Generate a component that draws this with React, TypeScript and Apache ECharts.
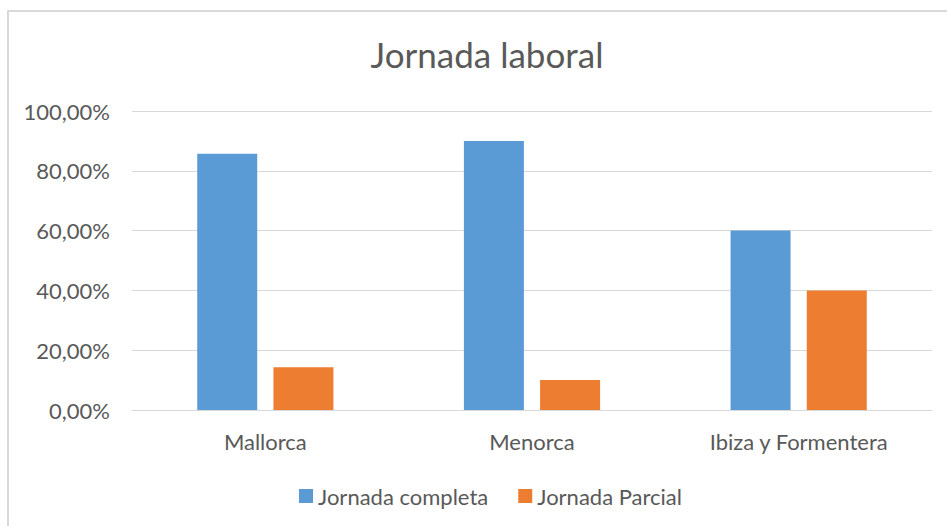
import React, { useEffect, useRef } from "react";
import * as echarts from "echarts";

const categories = ["Mallorca", "Menorca", "Ibiza y Formentera"];
const completa = [85.7, 90.0, 60.0];
const parcial = [14.3, 10.0, 40.0];
const seriesNames = ["Jornada completa", "Jornada Parcial"];
const titleText = "Jornada laboral";

const FONT = "Lato";
const TXT = "#595959";

export default function App() {
  const ref = useRef<HTMLDivElement>(null);
  useEffect(() => {
    if (!ref.current) return;
    const chart = echarts.init(ref.current, undefined, { renderer: "svg" });
    chart.setOption({
      animation: false,
      backgroundColor: "#ffffff",
      title: {
        text: titleText,
        left: 482,
        top: 31,
        textAlign: "center",
        textStyle: { fontFamily: FONT, fontSize: 35, fontWeight: "normal", color: TXT },
      },
      legend: {
        left: 294,
        top: 480,
        itemWidth: 14,
        itemHeight: 14,
        itemGap: 30,
        icon: "rect",
        textStyle: { fontFamily: FONT, fontSize: 22, color: TXT, padding: [0, 0, 0, 0] },
        data: seriesNames,
      },
      graphic: [
        {
          type: "rect",
          shape: { x: 8, y: 11, width: 1000, height: 600 },
          style: { fill: "none", stroke: "#d9d9d9", lineWidth: 2 },
          silent: true,
        },
      ],
      grid: { left: 132, right: 15, top: 111, bottom: 116, containLabel: false },
      xAxis: {
        type: "category",
        data: categories,
        axisLine: { lineStyle: { color: "#d9d9d9", width: 1 } },
        axisTick: { show: false },
        axisLabel: { fontFamily: FONT, fontSize: 22, color: TXT, margin: 20 },
      },
      yAxis: {
        type: "value",
        min: 0,
        max: 100,
        interval: 20,
        axisLine: { show: false },
        axisTick: { show: false },
        splitLine: { lineStyle: { color: "#d9d9d9", width: 1 } },
        axisLabel: {
          fontFamily: FONT,
          fontSize: 22,
          color: TXT,
          margin: 22,
          formatter: (v: number) => v.toFixed(2).replace(".", ",") + "%",
        },
      },
      series: [
        {
          name: seriesNames[0],
          type: "bar",
          data: completa,
          barWidth: 60,
          barGap: "27%",
          itemStyle: { color: "#5b9bd5" },
        },
        {
          name: seriesNames[1],
          type: "bar",
          data: parcial,
          barWidth: 60,
          itemStyle: { color: "#ed7d31" },
        },
      ],
    });
    return () => chart.dispose();
  }, []);
  return (
    <div
      ref={ref}
      style={{ position: "fixed", left: 0, top: 0, width: 947, height: 526 }}
    />
  );
}
